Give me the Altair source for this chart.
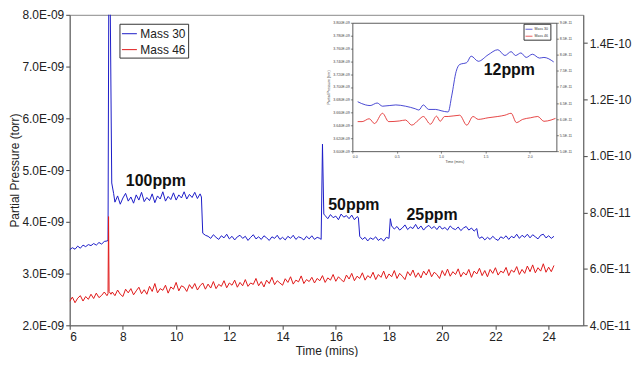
import altair as alt
import pandas as pd

FONT = "Liberation Sans"

# Main chart, Mass 30: (time in mins, partial pressure in 1e-9 torr)
m30 = [
    (6.0, 3.46), (6.1, 3.50), (6.2, 3.47), (6.3, 3.53), (6.4, 3.49), (6.5, 3.55), (6.6, 3.52),
    (6.7, 3.56), (6.8, 3.54), (6.9, 3.58), (7.0, 3.55), (7.1, 3.60), (7.2, 3.57), (7.3, 3.62),
    (7.4, 3.63), (7.44, 3.64), (7.47, 8.6), (7.52, 8.4), (7.58, 4.75), (7.65, 4.55),
    (7.7, 4.38), (7.8, 4.50), (7.9, 4.34), (8.0, 4.46), (8.1, 4.55), (8.2, 4.40), (8.3, 4.48),
    (8.4, 4.36), (8.5, 4.52), (8.6, 4.42), (8.7, 4.57), (8.8, 4.39), (8.9, 4.47), (9.0, 4.41),
    (9.1, 4.54), (9.2, 4.37), (9.3, 4.50), (9.4, 4.44), (9.5, 4.58), (9.6, 4.40), (9.7, 4.49),
    (9.8, 4.43), (9.9, 4.56), (10.0, 4.42), (10.1, 4.52), (10.2, 4.46), (10.3, 4.58), (10.4, 4.44),
    (10.5, 4.53), (10.6, 4.47), (10.7, 4.57), (10.8, 4.45), (10.9, 4.54), (10.95, 4.48),
    (11.0, 3.78), (11.1, 3.74),
    (11.2, 3.72), (11.3, 3.68), (11.4, 3.75), (11.5, 3.70), (11.6, 3.66), (11.7, 3.73), (11.8, 3.69),
    (11.9, 3.76), (12.0, 3.67), (12.1, 3.72), (12.2, 3.65), (12.3, 3.71), (12.4, 3.74), (12.5, 3.68),
    (12.6, 3.72), (12.7, 3.64), (12.8, 3.70), (12.9, 3.75), (13.0, 3.67), (13.1, 3.71), (13.2, 3.66),
    (13.3, 3.73), (13.4, 3.69), (13.5, 3.64), (13.6, 3.71), (13.7, 3.68), (13.8, 3.74), (13.9, 3.66),
    (14.0, 3.70), (14.1, 3.65), (14.2, 3.72), (14.3, 3.68), (14.4, 3.74), (14.5, 3.66), (14.6, 3.71),
    (14.7, 3.69), (14.8, 3.65), (14.9, 3.72), (15.0, 3.67), (15.1, 3.73), (15.2, 3.66), (15.3, 3.70),
    (15.4, 3.68), (15.45, 3.66), (15.5, 5.50), (15.55, 4.15),
    (15.6, 4.12), (15.7, 4.06), (15.8, 4.14), (15.9, 4.08), (16.0, 4.11), (16.1, 4.04), (16.2, 4.15),
    (16.3, 4.09), (16.4, 4.12), (16.5, 4.06), (16.6, 4.13), (16.7, 4.04), (16.8, 4.10), (16.85, 4.08),
    (16.9, 3.72), (17.0, 3.66),
    (17.1, 3.70), (17.2, 3.63), (17.3, 3.69), (17.4, 3.66), (17.5, 3.71), (17.6, 3.64), (17.7, 3.68),
    (17.8, 3.63), (17.9, 3.70), (18.0, 3.68), (18.05, 4.06), (18.1, 3.92),
    (18.2, 3.86), (18.3, 3.91), (18.4, 3.84), (18.5, 3.88), (18.6, 3.94), (18.7, 3.85), (18.8, 3.90),
    (18.9, 3.87), (19.0, 3.95), (19.1, 3.86), (19.2, 3.92), (19.3, 3.84), (19.4, 3.90), (19.5, 3.93),
    (19.6, 3.87), (19.7, 3.91), (19.8, 3.85), (19.9, 3.92), (20.0, 3.86), (20.1, 3.89), (20.2, 3.84),
    (20.3, 3.92), (20.4, 3.87), (20.5, 3.85), (20.6, 3.90), (20.7, 3.83), (20.8, 3.88), (20.9, 3.91),
    (21.0, 3.84), (21.1, 3.88), (21.2, 3.82), (21.3, 3.87), (21.35, 3.72),
    (21.4, 3.68), (21.5, 3.71), (21.6, 3.65), (21.7, 3.70), (21.8, 3.66), (21.9, 3.72), (22.0, 3.67),
    (22.1, 3.64), (22.2, 3.71), (22.3, 3.68), (22.4, 3.73), (22.5, 3.66), (22.6, 3.72), (22.7, 3.69),
    (22.8, 3.76), (22.9, 3.68), (23.0, 3.74), (23.1, 3.70), (23.2, 3.76), (23.3, 3.69), (23.4, 3.75),
    (23.5, 3.71), (23.6, 3.67), (23.7, 3.74), (23.8, 3.76), (23.9, 3.69), (24.0, 3.73), (24.1, 3.68),
    (24.2, 3.72),
]

# Main chart, Mass 46: (time in mins, partial pressure in 1e-11 torr, right axis)
m46 = [
    (6.0, 4.85), (6.1, 5.00), (6.2, 4.80), (6.3, 4.96), (6.4, 5.05), (6.5, 4.86), (6.6, 5.02),
    (6.7, 4.92), (6.8, 5.10), (6.9, 4.95), (7.0, 5.14), (7.1, 4.98), (7.2, 5.06), (7.3, 5.18),
    (7.4, 5.05), (7.44, 5.12), (7.46, 7.85), (7.48, 5.20), (7.55, 5.10), (7.6, 5.18),
    (7.7, 5.05), (7.8, 5.25), (7.9, 5.10), (8.0, 5.02), (8.1, 5.28), (8.2, 5.15), (8.3, 5.30),
    (8.4, 5.08), (8.5, 5.22), (8.6, 5.35), (8.7, 5.12), (8.8, 5.26), (8.9, 5.10), (9.0, 5.38),
    (9.1, 5.20), (9.2, 5.48), (9.3, 5.15), (9.4, 5.30), (9.5, 5.24), (9.6, 5.42), (9.7, 5.14),
    (9.8, 5.36), (9.9, 5.28), (10.0, 5.52), (10.1, 5.22), (10.2, 5.40), (10.3, 5.35), (10.4, 5.20),
    (10.5, 5.44), (10.6, 5.30), (10.7, 5.48), (10.8, 5.25), (10.9, 5.40), (11.0, 5.50), (11.1, 5.28),
    (11.2, 5.46), (11.3, 5.32), (11.4, 5.55), (11.5, 5.30), (11.6, 5.45), (11.7, 5.38), (11.8, 5.58),
    (11.9, 5.33), (12.0, 5.50), (12.1, 5.42), (12.2, 5.60), (12.3, 5.35), (12.4, 5.52), (12.5, 5.40),
    (12.6, 5.62), (12.7, 5.38), (12.8, 5.50), (12.9, 5.45), (13.0, 5.66), (13.1, 5.40), (13.2, 5.55),
    (13.3, 5.36), (13.4, 5.60), (13.5, 5.48), (13.6, 5.70), (13.7, 5.44), (13.8, 5.58), (13.9, 5.50),
    (14.0, 5.42), (14.1, 5.65), (14.2, 5.52), (14.3, 5.72), (14.4, 5.46), (14.5, 5.60), (14.6, 5.54),
    (14.7, 5.75), (14.8, 5.48), (14.9, 5.62), (15.0, 5.55), (15.1, 5.70), (15.2, 5.50), (15.3, 5.66),
    (15.4, 5.58), (15.5, 5.76), (15.6, 5.52), (15.7, 5.68), (15.8, 5.60), (15.9, 5.80), (16.0, 5.56),
    (16.1, 5.72), (16.2, 5.62), (16.3, 5.54), (16.4, 5.78), (16.5, 5.64), (16.6, 5.84), (16.7, 5.58),
    (16.8, 5.74), (16.9, 5.66), (17.0, 5.86), (17.1, 5.60), (17.2, 5.76), (17.3, 5.68), (17.4, 5.88),
    (17.5, 5.62), (17.6, 5.80), (17.7, 5.70), (17.8, 5.92), (17.9, 5.65), (18.0, 5.82), (18.1, 5.72),
    (18.2, 5.94), (18.3, 5.66), (18.4, 5.84), (18.5, 5.74), (18.6, 5.62), (18.7, 5.90), (18.8, 5.76),
    (18.9, 5.96), (19.0, 5.70), (19.1, 5.86), (19.2, 5.68), (19.3, 5.92), (19.4, 5.78), (19.5, 5.98),
    (19.6, 5.72), (19.7, 5.88), (19.8, 5.80), (19.9, 5.66), (20.0, 5.94), (20.1, 5.76), (20.2, 5.99),
    (20.3, 5.74), (20.4, 5.90), (20.5, 5.80), (20.6, 6.00), (20.7, 5.72), (20.8, 5.88), (20.9, 5.78),
    (21.0, 5.98), (21.1, 5.70), (21.2, 5.92), (21.3, 5.82), (21.4, 6.02), (21.5, 5.76), (21.6, 5.94),
    (21.7, 5.72), (21.8, 5.98), (21.9, 5.84), (22.0, 6.04), (22.1, 5.78), (22.2, 5.92), (22.3, 5.86),
    (22.4, 6.05), (22.5, 5.76), (22.6, 5.96), (22.7, 5.88), (22.8, 6.08), (22.9, 5.80), (23.0, 5.98),
    (23.1, 5.84), (23.2, 6.10), (23.3, 5.90), (23.4, 6.14), (23.5, 5.86), (23.6, 6.04), (23.7, 5.92),
    (23.8, 6.18), (23.9, 5.88), (24.0, 6.06), (24.1, 5.90), (24.2, 6.12),
]

# Inset, Mass 30: (time in mins, pressure in 1e-9 torr)
in30 = [
    (0.06, 3.677), (0.15, 3.672), (0.20, 3.671), (0.28, 3.675), (0.34, 3.670), (0.49, 3.672),
    (0.60, 3.670), (0.71, 3.666), (0.75, 3.664), (0.80, 3.672), (0.86, 3.665), (0.94, 3.665),
    (1.00, 3.663), (1.08, 3.661), (1.12, 3.686), (1.17, 3.724), (1.21, 3.735), (1.29, 3.738),
    (1.34, 3.748), (1.42, 3.740), (1.53, 3.750), (1.64, 3.758), (1.72, 3.749), (1.79, 3.755),
    (1.84, 3.749), (1.90, 3.753), (1.96, 3.746), (2.03, 3.751), (2.11, 3.745), (2.16, 3.746),
    (2.27, 3.739),
]

# Inset, Mass 46: (time in mins, pressure in 1e-11 torr)
in46 = [
    (0.06, 5.92), (0.11, 5.92), (0.19, 6.01), (0.25, 5.86), (0.34, 6.18), (0.41, 5.92),
    (0.53, 5.94), (0.60, 5.97), (0.67, 5.81), (0.75, 5.98), (0.80, 6.08), (0.88, 5.84),
    (0.95, 6.09), (0.99, 5.93), (1.04, 6.08), (1.08, 6.08), (1.21, 6.12), (1.29, 5.81),
    (1.36, 6.08), (1.42, 5.99), (1.53, 6.04), (1.64, 6.08), (1.72, 6.12), (1.79, 6.18),
    (1.85, 5.89), (1.92, 5.99), (2.01, 6.04), (2.09, 6.08), (2.16, 5.93), (2.24, 5.97),
    (2.29, 6.02),
]

ann_text = ["100ppm", "50ppm", "25ppm"]
ann_time = [9.24, 16.68, 19.62]
ann_p = [4.78, 4.33, 4.13]

inset_text = ["12ppm"]
inset_time = [1.77]
inset_p = [3.726]

series = ["Mass 30", "Mass 46"]
colors = ["#1c1cc8", "#e01818"]

left_ticks = [2e-9, 3e-9, 4e-9, 5e-9, 6e-9, 7e-9, 8e-9]
right_ticks = [4e-11, 6e-11, 8e-11, 1e-10, 1.2e-10, 1.4e-10]
x_ticks = [6, 8, 10, 12, 14, 16, 18, 20, 22, 24]
in_left_ticks = [3.60e-9, 3.62e-9, 3.64e-9, 3.66e-9, 3.68e-9, 3.70e-9, 3.72e-9, 3.74e-9, 3.76e-9, 3.78e-9, 3.80e-9]
in_right_ticks = [5.0e-11, 5.5e-11, 6.0e-11, 6.5e-11, 7.0e-11, 7.5e-11, 8.0e-11, 8.5e-11, 9.0e-11]
in_x_ticks = [0, 0.5, 1, 1.5, 2]

# ---- data frames ----
df30 = pd.DataFrame(m30, columns=["t", "v"])
df30["p"] = df30["v"] * 1e-9
df30["series"] = series[0]
df46 = pd.DataFrame(m46, columns=["t", "v"])
df46["p"] = df46["v"] * 1e-11
df46["series"] = series[1]
di30 = pd.DataFrame(in30, columns=["t", "v"])
di30["p"] = di30["v"] * 1e-9
di30["inset"] = series[0]
di46 = pd.DataFrame(in46, columns=["t", "v"])
di46["p"] = di46["v"] * 1e-11
di46["inset"] = series[1]
dann = pd.DataFrame({"label": ann_text, "t": ann_time, "p": [v * 1e-9 for v in ann_p]})
dins = pd.DataFrame({"label": inset_text, "t": inset_time, "p": [v * 1e-9 for v in inset_p]})

W, H = 516, 312
IN_X = [284, 489]
IN_Y = [137, 8]

X_MAIN = alt.Scale(domain=[6, 25.3], nice=False, zero=False)
Y_LEFT = alt.Scale(domain=[2e-9, 8e-9], nice=False, zero=False)
Y_RIGHT = alt.Scale(domain=[4e-11, 1.5e-10], nice=False, zero=False)
X_IN = alt.Scale(domain=[0, 2.3], range=IN_X, nice=False, zero=False)
Y_IN_L = alt.Scale(domain=[3.6e-9, 3.8e-9], range=IN_Y, nice=False, zero=False)
Y_IN_R = alt.Scale(domain=[5e-11, 9e-11], range=IN_Y, nice=False, zero=False)
COLOR = alt.Scale(domain=series, range=colors)
# data-driven domain (sorted: Mass 30, Mass 46) so this legend stays separate from the main one
STROKE = alt.Scale(range=colors)

main_axis_style = dict(labelFontSize=12, titleFontSize=12, titleFontWeight="normal",
                       tickSize=4, labelPadding=2, domainColor="#666", tickColor="#444",
                       labelColor="#222", titleColor="#222", grid=False)
in_axis_style = dict(labelFontSize=3.6, titleFontSize=3.6, titleFontWeight="normal",
                     tickSize=2, labelPadding=1, titlePadding=2, domainColor="#333",
                     tickColor="#333", labelColor="#444", titleColor="#444", grid=False,
                     domainWidth=0.8, tickWidth=0.6)

main30 = alt.Chart(df30).mark_line(clip=True, strokeWidth=1).encode(
    x=alt.X("t:Q", scale=X_MAIN, axis=alt.Axis(values=x_ticks, title="Time (mins)",
                                                 titlePadding=3, orient="bottom", **main_axis_style)),
    y=alt.Y("p:Q", scale=Y_LEFT, axis=alt.Axis(
        values=left_ticks, orient="left", title="Partial Pressure (torr)", titlePadding=0,
        labelExpr="format(datum.value*1e9, '.1f') + 'E-09'", **main_axis_style)),
    color=alt.Color("series:N", scale=COLOR, legend=alt.Legend(
        title=None, orient="none", legendX=50, legendY=9, strokeColor="#333", fillColor="white",
        padding=2, labelFontSize=12, labelColor="#222", symbolSize=225, symbolStrokeWidth=1,
        symbolType="stroke", rowPadding=2, labelOffset=3)),
)

main46 = alt.Chart(df46).mark_line(clip=True, strokeWidth=1).encode(
    x=alt.X("t:Q", scale=X_MAIN, axis=None),
    y=alt.Y("p:Q", scale=Y_RIGHT, axis=alt.Axis(
        values=right_ticks, orient="right", title=None,
        labelExpr="datum.value < 9.9e-11 ? format(datum.value*1e11, '.1f') + 'E-11' : format(datum.value*1e10, '.1f') + 'E-10'",
        **main_axis_style)),
    color=alt.Color("series:N", scale=COLOR, legend=None),
)

ann = alt.Chart(dann).mark_text(fontSize=16, fontWeight="bold", font=FONT, color="#111").encode(
    x=alt.X("t:Q", scale=X_MAIN, axis=None),
    y=alt.Y("p:Q", scale=Y_LEFT, axis=None),
    text="label:N",
)

ins30 = alt.Chart(di30).mark_line(strokeWidth=0.8, interpolate="monotone").encode(
    x=alt.X("t:Q", scale=X_IN, axis=alt.Axis(values=in_x_ticks, orient="bottom", offset=-(H - IN_Y[0]),
                                               title="Time (mins)", **in_axis_style)),
    y=alt.Y("p:Q", scale=Y_IN_L, axis=alt.Axis(
        values=in_left_ticks, orient="left", offset=-IN_X[0], title="Partial Pressure (torr)",
        labelExpr="format(datum.value*1e9, '.3f') + 'E-09'", **in_axis_style)),
    stroke=alt.Stroke("inset:N", scale=STROKE, legend=alt.Legend(
        title=None, orient="none", legendX=456, legendY=9, strokeColor="#333", fillColor="white",
        padding=1.5, labelFontSize=3.6, labelColor="#333", symbolSize=49, symbolStrokeWidth=0.7,
        symbolType="stroke", rowPadding=1, labelOffset=1.5)),
)

ins46 = alt.Chart(di46).mark_line(strokeWidth=0.8, interpolate="monotone").encode(
    x=alt.X("t:Q", scale=X_IN, axis=None),
    y=alt.Y("p:Q", scale=Y_IN_R, axis=alt.Axis(
        values=in_right_ticks, orient="right", offset=-(W - IN_X[1]), title=None,
        labelExpr="format(datum.value*1e11, '.1f') + 'E-11'", **in_axis_style)),
    stroke=alt.Stroke("inset:N", scale=STROKE, legend=None),
)

ins_ann = alt.Chart(dins).mark_text(fontSize=16, fontWeight="bold", font=FONT, color="#111").encode(
    x=alt.X("t:Q", scale=X_IN, axis=alt.Axis(orient="top", offset=-IN_Y[1], labels=False, ticks=False,
                                               title=None, domainColor="#333", domainWidth=0.8, grid=False)),
    y=alt.Y("p:Q", scale=Y_IN_L, axis=None),
    text="label:N",
)

chart = alt.layer(main30, main46, ann, ins30, ins46, ins_ann).resolve_scale(
    x="independent", y="independent"
).properties(
    width=W, height=H, padding={"left": 0, "top": 0, "right": 0, "bottom": 0}
).configure(font=FONT).configure_view(stroke="#888", strokeWidth=1)

chart.save("out.html", embed_options={"renderer": "svg", "actions": False})
